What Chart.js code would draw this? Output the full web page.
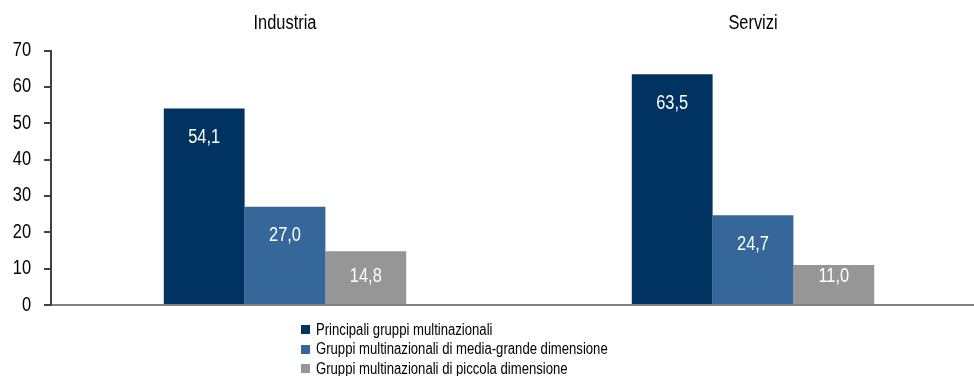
<!DOCTYPE html>
<html>
<head>
<meta charset="utf-8">
<script src="https://cdn.jsdelivr.net/npm/chart.js@4.4.0/dist/chart.umd.min.js"></script>
<style>
  body { margin: 0; overflow: hidden; background: #fff; }
  #wrap { position: relative; width: 999px; height: 376px; margin-left: -12px; }
  #legend {
    position: absolute; left: 313px; top: 320px;
    font: 16px 'Liberation Sans', Arial, sans-serif;
    color: #000;
  }
  #legend div { height: 19.5px; display: flex; align-items: center; white-space: nowrap; }
  #legend span { display: inline-block; width: 9px; height: 9px; margin-right: 6px; flex: none; }
  #legend em { font-style: normal; display: inline-block; transform: scaleX(0.82); transform-origin: left center; }
</style>
</head>
<body>
<div id="wrap">
  <canvas id="chart" width="999" height="376"></canvas>
  <div id="legend"></div>
</div>
<script>
const FONT = "'Liberation Sans', Arial, sans-serif";

const sectors = ['Industria', 'Servizi'];
const groupNames = [
  'Principali gruppi multinazionali',
  'Gruppi multinazionali di media-grande dimensione',
  'Gruppi multinazionali di piccola dimensione'
];
const principali = [54.1, 63.5];
const mediaGrande = [27.0, 24.7];
const piccola = [14.8, 11.0];
const colors = ['#003361', '#35679a', '#969696'];

// narrow text: regular face squeezed horizontally
function narrowText(ctx, text, x, y, align, color) {
  ctx.save();
  ctx.translate(x, y);
  ctx.scale(0.82, 1);
  ctx.font = '20px ' + FONT;
  ctx.fillStyle = color;
  ctx.textAlign = align;
  ctx.textBaseline = 'middle';
  ctx.fillText(text, 0, 0);
  ctx.restore();
}

// white value labels inside the top of each bar
const valueLabels = {
  id: 'valueLabels',
  afterDatasetsDraw(chart) {
    chart.data.datasets.forEach((ds, i) => {
      chart.getDatasetMeta(i).data.forEach((bar, j) => {
        const y = Math.min(bar.y + 29, bar.base - 28);
        narrowText(chart.ctx, ds.data[j].toFixed(1).replace('.', ','), bar.x, y, 'center', '#fff');
      });
    });
  }
};

// axis labels in the narrow style, placed at the scales' tick positions
const narrowTicks = {
  id: 'narrowTicks',
  afterDraw(chart) {
    const { x, y } = chart.scales;
    y.ticks.forEach((t, i) => {
      narrowText(chart.ctx, String(t.value), y.right - 20, y.getPixelForTick(i), 'right', '#000');
    });
    x.ticks.forEach((t, i) => {
      narrowText(chart.ctx, sectors[t.value], x.getPixelForTick(i), x.bottom - 27, 'center', '#000');
    });
  }
};

const datasets = [principali, mediaGrande, piccola].map((values, i) => ({
  label: groupNames[i],
  data: values,
  backgroundColor: colors[i],
  categoryPercentage: 0.518,
  barPercentage: 1
}));

new Chart(document.getElementById('chart'), {
  type: 'bar',
  data: { labels: sectors, datasets: datasets },
  options: {
    responsive: false,
    animation: false,
    layout: { padding: { left: 10, right: 0, top: 5, bottom: 71 } },
    plugins: {
      legend: { display: false },
      tooltip: { enabled: false }
    },
    scales: {
      x: {
        position: 'top',
        grid: { display: false },
        border: { display: false },
        ticks: { color: 'rgba(0,0,0,0)', font: { family: FONT, size: 18 }, padding: 8 }
      },
      y: {
        min: 0,
        max: 70,
        ticks: { stepSize: 10, color: 'rgba(0,0,0,0)', font: { family: FONT, size: 18 }, padding: 13 },
        border: { color: '#404040', width: 2 },
        grid: {
          color: c => c.tick && c.tick.value === 0 ? '#808080' : 'rgba(0,0,0,0)',
          lineWidth: 2,
          tickColor: '#404040',
          tickLength: 7
        }
      }
    }
  },
  plugins: [valueLabels, narrowTicks]
});

// legend as a single left-aligned column
const legend = document.getElementById('legend');
groupNames.forEach((name, i) => {
  const row = document.createElement('div');
  const box = document.createElement('span');
  box.style.background = colors[i];
  const text = document.createElement('em');
  text.textContent = name;
  row.appendChild(box);
  row.appendChild(text);
  legend.appendChild(row);
});
</script>
</body>
</html>
